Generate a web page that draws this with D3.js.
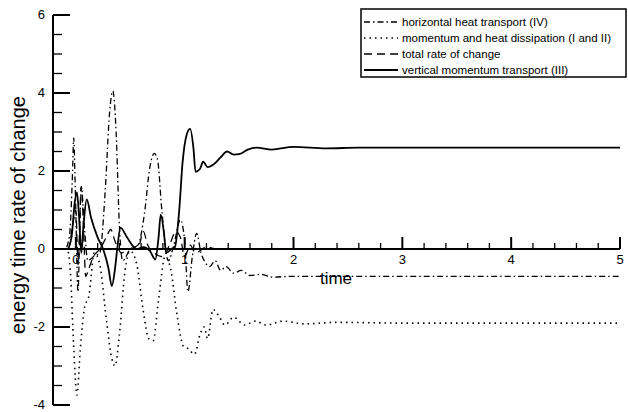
<!DOCTYPE html>
<html><head><meta charset="utf-8">
<script src="https://cdn.jsdelivr.net/npm/d3@7"></script>
<style>body{margin:0;background:#fff}text{font-family:"Liberation Sans",Arial,sans-serif}</style>
</head><body><svg id="c" width="628" height="412"></svg>
<script>
// series: [time, value]
var heatTransport = [[-0.2,0],[-0.1,0],[-0.06,0.3],[-0.03,2.0],[-0.02,2.85],[-0.005,1.5],[0.02,-1.1],[0.035,0.4],[0.05,1.6],[0.08,0.5],[0.11,-0.3],[0.16,-0.2],[0.22,-0.1],[0.27,1.5],[0.31,3.5],[0.34,4.05],[0.37,3.0],[0.4,0.6],[0.43,-0.3],[0.5,0],[0.57,0.1],[0.63,0.9],[0.68,2.1],[0.72,2.45],[0.75,2.3],[0.79,1.0],[0.85,-0.3],[0.9,0.1],[0.96,0.75],[1.0,0.2],[1.03,-1.1],[1.07,-0.2],[1.11,0.4],[1.15,-0.1],[1.19,-0.35],[1.23,-0.45],[1.28,-0.3],[1.33,-0.55],[1.38,-0.45],[1.45,-0.62],[1.52,-0.55],[1.6,-0.68],[1.7,-0.65],[1.8,-0.72],[2.0,-0.7],[2.5,-0.7],[3,-0.7],[4,-0.7],[5,-0.7]];
var dissipation = [[-0.2,0],[-0.08,0],[-0.05,-0.6],[-0.02,-2.5],[0.01,-3.75],[0.04,-2.6],[0.08,-1.5],[0.12,-1.2],[0.17,-0.1],[0.22,-0.4],[0.28,-1.8],[0.33,-2.8],[0.36,-3.0],[0.4,-2.2],[0.45,-0.6],[0.5,-0.05],[0.56,-0.4],[0.62,-1.6],[0.67,-2.3],[0.71,-2.35],[0.76,-1.3],[0.82,-0.2],[0.87,-0.5],[0.93,-1.7],[0.99,-2.5],[1.03,-2.55],[1.09,-2.7],[1.14,-2.2],[1.18,-2.0],[1.21,-2.3],[1.26,-1.55],[1.31,-1.7],[1.37,-1.95],[1.45,-1.75],[1.55,-1.95],[1.65,-1.85],[1.75,-1.95],[1.9,-1.85],[2.1,-1.92],[2.4,-1.88],[3,-1.9],[4,-1.9],[5,-1.9]];
var totalChange = [[-0.2,0],[-0.07,0],[-0.03,0.6],[0.0,1.0],[0.02,-0.4],[0.05,1.6],[0.07,0.6],[0.09,-0.7],[0.12,-0.5],[0.16,-0.2],[0.22,0],[0.28,0.3],[0.32,0.5],[0.36,0.2],[0.42,-0.1],[0.5,0],[0.58,0.1],[0.62,0.45],[0.66,0.1],[0.72,-0.1],[0.8,-0.2],[0.86,0.1],[0.92,0.45],[0.96,0.3],[1.0,-0.2],[1.05,0.1],[1.1,-0.1],[1.2,0.05],[1.3,0],[2,0],[5,0]];
var vertMomentum = [[-0.2,0],[-0.08,0],[-0.04,0.3],[-0.01,1.2],[0.01,1.45],[0.03,0.8],[0.05,-0.1],[0.07,0.6],[0.1,1.27],[0.14,0.8],[0.2,0.3],[0.25,0],[0.3,-0.5],[0.33,-0.95],[0.36,-0.5],[0.38,0],[0.41,0.55],[0.47,0.3],[0.56,0],[0.62,0.05],[0.68,-0.05],[0.73,-0.27],[0.76,0.3],[0.78,0.88],[0.81,0.4],[0.83,-0.1],[0.88,0],[0.91,0.05],[0.95,1.0],[0.98,2.2],[1.02,2.95],[1.05,3.08],[1.08,2.6],[1.1,1.98],[1.14,2.05],[1.17,2.24],[1.21,2.1],[1.27,2.18],[1.33,2.35],[1.39,2.5],[1.45,2.42],[1.5,2.43],[1.58,2.55],[1.66,2.6],[1.8,2.55],[2.0,2.62],[2.3,2.58],[2.6,2.6],[3,2.6],[4,2.6],[5,2.6]];
var xTicks = [0,1,2,3,4,5];
var yTicks = [-4,-2,0,2,4,6];
var legendLabels = ["horizontal heat transport (IV)","momentum and heat dissipation (I and II)","total rate of change","vertical momentum transport (III)"];

var svg = d3.select("#c");
var x = d3.scaleLinear().domain([-0.21,5]).range([53,620]);
var y = d3.scaleLinear().domain([-4,6]).range([405,15]);

var series = [
  {d: heatTransport, dash: "6,3,1.5,3", w: 1.3},
  {d: dissipation, dash: "1.5,4", w: 1.6},
  {d: totalChange, dash: "8,5", w: 1.3},
  {d: vertMomentum, dash: null, w: 1.8}
];

// y axis with major/minor ticks pointing inward
svg.append("line").attr("x1",53).attr("x2",53).attr("y1",y(6)).attr("y2",y(-4)).attr("stroke","#000").attr("stroke-width",2);
d3.range(-4,6.01,0.5).forEach(function(v){
  var major = Math.abs(v % 2) < 1e-9;
  svg.append("line").attr("x1",53).attr("x2",53+(major?17:9)).attr("y1",y(v)).attr("y2",y(v)).attr("stroke","#000").attr("stroke-width",major?2:1.3);
});
svg.selectAll(".yl").data(yTicks).enter().append("text").attr("x",45).attr("y",function(d){return y(d)+4}).attr("text-anchor","end").attr("font-size",13).text(function(d){return d});

// x axis along y=0
svg.append("line").attr("x1",53).attr("x2",620).attr("y1",y(0)).attr("y2",y(0)).attr("stroke","#000").attr("stroke-width",2);
d3.range(0,5.01,0.2).forEach(function(v){
  var major = Math.abs(v - Math.round(v)) < 1e-9;
  svg.append("line").attr("x1",x(v)).attr("x2",x(v)).attr("y1",y(0)).attr("y2",y(0)-(major?12:6)).attr("stroke","#000").attr("stroke-width",major?2:1.3);
});
svg.selectAll(".xl").data(xTicks).enter().append("text").attr("x",function(d){return x(d)}).attr("y",y(0)+15).attr("text-anchor","middle").attr("font-size",13).text(function(d){return d});

var line = d3.line().x(function(p){return x(p[0])}).y(function(p){return y(p[1])}).curve(d3.curveMonotoneX);
series.forEach(function(s){
  svg.append("path").attr("d",line(s.d)).attr("fill","none").attr("stroke","#000").attr("stroke-width",s.w).attr("stroke-dasharray",s.dash);
});

svg.append("text").attr("x",336).attr("y",284).attr("text-anchor","middle").attr("font-size",17).text("time");
svg.append("text").attr("transform","translate(25,215) rotate(-90)").attr("text-anchor","middle").attr("font-size",20).text("energy time rate of change");

// legend
svg.append("rect").attr("x",361).attr("y",9).attr("width",265).attr("height",68).attr("fill","#fff").attr("stroke","#000").attr("stroke-width",1.5);
legendLabels.forEach(function(t,i){
  var ly = 22 + i*16;
  svg.append("line").attr("x1",364).attr("x2",398).attr("y1",ly).attr("y2",ly).attr("stroke","#000").attr("stroke-width",series[i].w).attr("stroke-dasharray",series[i].dash);
  svg.append("text").attr("x",402).attr("y",ly+4).attr("font-size",11.5).text(t);
});
</script></body></html>
